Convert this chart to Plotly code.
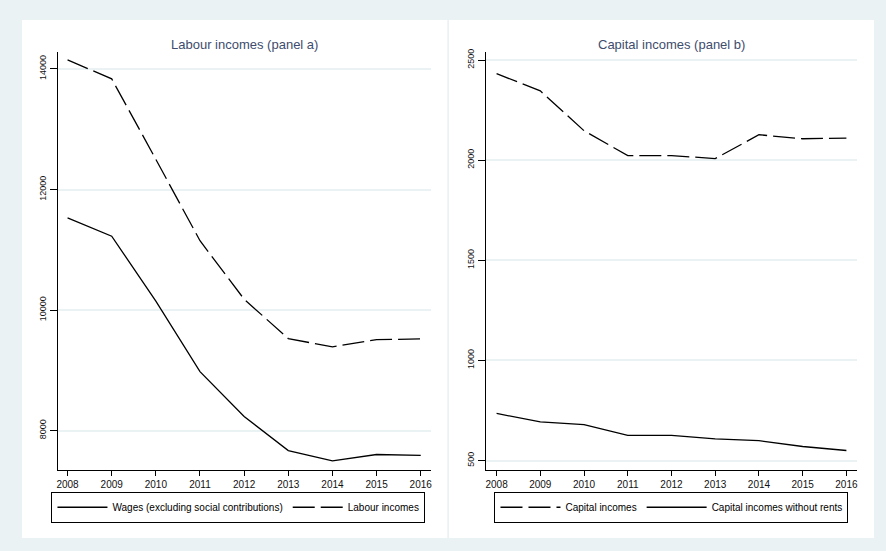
import plotly.graph_objects as go

years = [2008, 2009, 2010, 2011, 2012, 2013, 2014, 2015, 2016]
wages = [11530, 11225, 10150, 8980, 8235, 7670, 7500, 7605, 7590]
labour_incomes = [14150, 13835, 12500, 11150, 10180, 9527, 9390, 9510, 9522]
capital_incomes = [2432, 2346, 2147, 2023, 2023, 2008, 2127, 2107, 2110]
capital_no_rents = [735, 693, 679, 626, 626, 608, 599, 570, 550]

left_ticks = [8000, 10000, 12000, 14000]
right_ticks = [500, 1000, 1500, 2000, 2500]

W, H = 886, 551
BG = "#EAF2F3"
GRID = "#EAF2F3"
TITLE_COLOR = "#3E4C6D"
DASH = "22px,6px"

def px_x(p):
    return p / W

def px_y(p):
    return 1 - p / H

fig = go.Figure()

fig.add_trace(go.Scatter(x=years, y=wages, mode="lines", name="Wages (excluding social contributions)",
                         line=dict(color="black", width=1.3), xaxis="x", yaxis="y", legend="legend"))
fig.add_trace(go.Scatter(x=years, y=labour_incomes, mode="lines", name="Labour incomes",
                         line=dict(color="black", width=1.3, dash=DASH), xaxis="x", yaxis="y", legend="legend"))
fig.add_trace(go.Scatter(x=years, y=capital_incomes, mode="lines", name="Capital incomes",
                         line=dict(color="black", width=1.3, dash=DASH), xaxis="x2", yaxis="y2", legend="legend2"))
fig.add_trace(go.Scatter(x=years, y=capital_no_rents, mode="lines", name="Capital incomes without rents",
                         line=dict(color="black", width=1.3), xaxis="x2", yaxis="y2", legend="legend2"))

xdom1 = [px_x(56.7), px_x(431)]
xdom2 = [px_x(485.7), px_x(857.7)]
ydom = [px_y(469.3), px_y(49.3)]

common_x = dict(tickvals=years, showgrid=False, zeroline=False, showline=True, linecolor="black",
                linewidth=1, ticks="outside", ticklen=5, tickcolor="black", tickwidth=1,
                tickfont=dict(family="Liberation Sans, Arial", size=10, color="#111"))
common_y = dict(showgrid=True, gridcolor=GRID, gridwidth=2, zeroline=False, showline=True,
                linecolor="black", linewidth=1, ticks="outside", ticklen=7, tickcolor="black",
                tickwidth=1, tickangle=-90, tickformat="d",
                tickfont=dict(family="Liberation Sans, Arial", size=9, color="#111"))

legend_common = dict(orientation="h", bgcolor="white", bordercolor="black", borderwidth=1,
                     font=dict(family="Liberation Sans, Arial", size=10, color="black"),
                     xanchor="center", yanchor="middle", itemclick=False)

fig.update_layout(
    width=W, height=H,
    margin=dict(l=0, r=0, t=0, b=0),
    paper_bgcolor=BG, plot_bgcolor="white",
    showlegend=True,
    xaxis=dict(domain=xdom1, range=[2007.774, 2016.233], anchor="y", **common_x),
    yaxis=dict(domain=ydom, range=[7352, 14280], tickvals=left_ticks, anchor="x", **common_y),
    xaxis2=dict(domain=xdom2, range=[2007.749, 2016.237], anchor="y2", **common_x),
    yaxis2=dict(domain=ydom, range=[454, 2540], tickvals=right_ticks, anchor="x2", **common_y),
    legend=dict(x=px_x(238), y=px_y(507), itemwidth=50, **legend_common),
    legend2=dict(x=px_x(672), y=px_y(507), itemwidth=60, **legend_common),
    shapes=[
        dict(type="rect", xref="paper", yref="paper", x0=px_x(21), x1=px_x(447.3),
             y0=px_y(538), y1=px_y(17), fillcolor="white", line=dict(width=0), layer="below"),
        dict(type="rect", xref="paper", yref="paper", x0=px_x(449), x1=px_x(875),
             y0=px_y(538), y1=px_y(17), fillcolor="white", line=dict(width=0), layer="below"),
    ],
    annotations=[
        dict(text="Labour incomes (panel a)", xref="paper", yref="paper",
             x=(xdom1[0] + xdom1[1]) / 2, y=px_y(41.5), xanchor="center", yanchor="middle",
             showarrow=False, font=dict(family="Liberation Sans, Arial", size=13, color=TITLE_COLOR)),
        dict(text="Capital incomes (panel b)", xref="paper", yref="paper",
             x=(xdom2[0] + xdom2[1]) / 2, y=px_y(41.5), xanchor="center", yanchor="middle",
             showarrow=False, font=dict(family="Liberation Sans, Arial", size=13, color=TITLE_COLOR)),
    ],
)

fig.write_html("out.html")
